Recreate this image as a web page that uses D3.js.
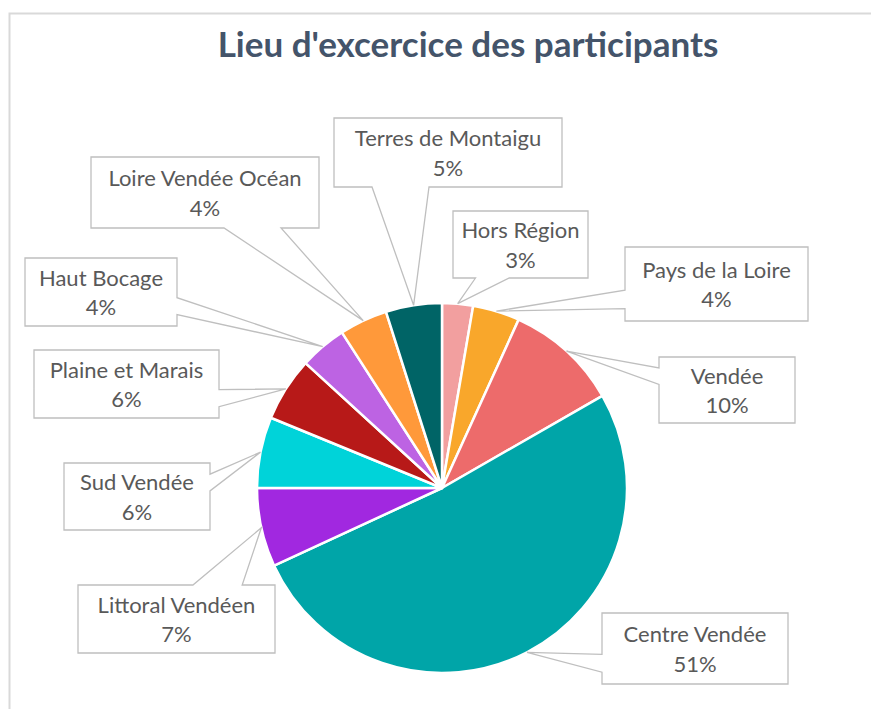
<!DOCTYPE html>
<html>
<head>
<meta charset="utf-8">
<script src="https://cdn.jsdelivr.net/npm/d3@7"></script>
<style>
  body { margin: 0; background: #fff; }
  svg { display: block; font-family: Lato, "Open Sans", sans-serif; }
</style>
</head>
<body>
<svg width="871" height="709"></svg>
<script>
const labels = ["Hors Région", "Pays de la Loire", "Vendée", "Centre Vendée", "Littoral Vendéen",
    "Sud Vendée", "Plaine et Marais", "Haut Bocage", "Loire Vendée Océan", "Terres de Montaigu"];
const values = [2.7, 4.1, 9.9, 51.4, 6.9, 6.2, 5.6, 4.1, 4.2, 4.9];
const colors = ["#f29f9f", "#f9a72b", "#ed6b6b", "#00a5a8", "#a128e0",
    "#00d3d9", "#b71918", "#bd63e3", "#ff993a", "#006466"];

// callout boxes, placed by hand like in the original
const boxes = [
    { x: 453, y: 211, w: 135, h: 67 },
    { x: 625, y: 247, w: 183, h: 74 },
    { x: 659, y: 357, w: 136, h: 66 },
    { x: 602, y: 613, w: 186, h: 71 },
    { x: 78, y: 585, w: 197, h: 68 },
    { x: 64, y: 463, w: 146, h: 67 },
    { x: 34, y: 350, w: 185, h: 68 },
    { x: 25, y: 258, w: 152, h: 68 },
    { x: 91, y: 157, w: 228, h: 71 },
    { x: 334, y: 118, w: 228, h: 69 }
];

const svg = d3.select("svg");
const cx = 442, cy = 488, radius = 185;
const total = d3.sum(values);

// chart area border (left and top visible)
svg.append("path")
    .attr("d", "M9.5,709 L9.5,13.5 L871,13.5")
    .attr("fill", "none")
    .attr("stroke", "#d9d9d9")
    .attr("stroke-width", 2);

svg.append("text")
    .attr("x", 468)
    .attr("y", 57)
    .attr("text-anchor", "middle")
    .attr("font-size", 35)
    .attr("font-weight", "bold")
    .attr("fill", "#44546a")
    .text("Lieu d'excercice des participants");

const pie = d3.pie().sort(null).value(d => d);
const arcs = pie(values);
const arc = d3.arc().innerRadius(0).outerRadius(radius);
const edge = d3.arc().innerRadius(radius).outerRadius(radius);

const g = svg.append("g").attr("transform", `translate(${cx},${cy})`);

g.selectAll("path")
    .data(arcs)
    .join("path")
    .attr("d", arc)
    .attr("fill", (d, i) => colors[i])
    .attr("stroke", "#fff")
    .attr("stroke-width", 2.5)
    .attr("stroke-linejoin", "round");

// rectangular callout with a wedge, same rules as Office's wedgeRectCallout
function calloutPath(b, t) {
    const x0 = b.x, y0 = b.y, x1 = b.x + b.w, y1 = b.y + b.h;
    const dxPos = t[0] - (x0 + b.w / 2), dyPos = t[1] - (y0 + b.h / 2);
    const xa = x0 + b.w * (dxPos > 0 ? 7 : 2) / 12, xb = x0 + b.w * (dxPos > 0 ? 10 : 5) / 12;
    const ya = y0 + b.h * (dyPos > 0 ? 7 : 2) / 12, yb = y0 + b.h * (dyPos > 0 ? 10 : 5) / 12;
    const horiz = Math.abs(dxPos * b.h) > Math.abs(dyPos * b.w);
    const tp = `${t[0]},${t[1]}`;
    let p = `M${x0},${y0}`;
    if (!horiz && dyPos < 0) p += `L${xa},${y0}L${tp}L${xb},${y0}`;
    p += `L${x1},${y0}`;
    if (horiz && dxPos > 0) p += `L${x1},${ya}L${tp}L${x1},${yb}`;
    p += `L${x1},${y1}`;
    if (!horiz && dyPos > 0) p += `L${xb},${y1}L${tp}L${xa},${y1}`;
    p += `L${x0},${y1}`;
    if (horiz && dxPos < 0) p += `L${x0},${yb}L${tp}L${x0},${ya}`;
    return p + "Z";
}

const callouts = svg.append("g");

arcs.forEach((a, i) => {
    const c = edge.centroid(a);
    const tip = [cx + c[0], cy + c[1]];
    const b = boxes[i];
    callouts.append("path")
        .attr("d", calloutPath(b, tip))
        .attr("fill", "#fff")
        .attr("stroke", "#bfbfbf")
        .attr("stroke-width", 1.3)
        .attr("stroke-linejoin", "miter");

    const t = callouts.append("text")
        .attr("text-anchor", "middle")
        .attr("font-size", 22)
        .attr("fill", "#595959");
    t.append("tspan")
        .attr("x", b.x + b.w / 2)
        .attr("y", b.y + b.h / 2 - 6.5)
        .text(labels[i]);
    t.append("tspan")
        .attr("x", b.x + b.w / 2)
        .attr("y", b.y + b.h / 2 + 23)
        .text(Math.round(values[i] / total * 100) + "%");
});
</script>
</body>
</html>
